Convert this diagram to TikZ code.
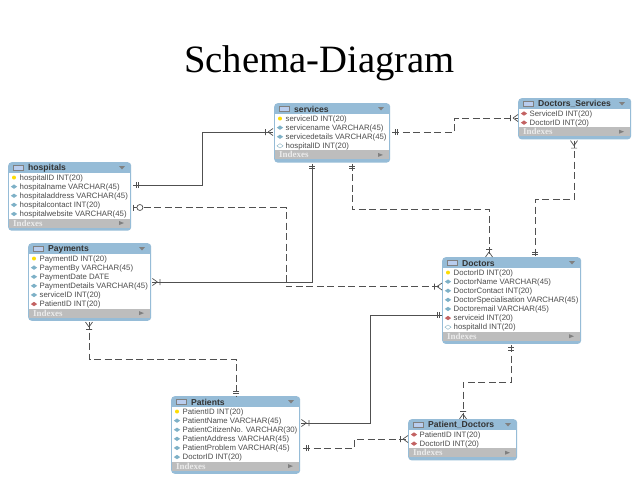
\documentclass[tikz,border=0pt]{standalone}
\usepackage{fontspec}
\setmainfont{Liberation Serif}
\setsansfont{Liberation Sans}
\usetikzlibrary{calc,shapes.geometric}
\definecolor{headblue}{HTML}{96BCD7}
\definecolor{indexgrey}{HTML}{BDBDBD}
\definecolor{linegrey}{HTML}{505050}
\definecolor{iconblue}{HTML}{B9CDEE}
\tikzset{
  tablebox/.style={rectangle,rounded corners=3.5pt,fill=headblue,inner sep=0pt,anchor=north west},
  rowtext/.style={font=\sffamily\fontsize{7.8}{8}\selectfont,text=black!70,inner sep=0pt,anchor=west},
  titletext/.style={font=\sffamily\bfseries\fontsize{8.6}{9}\selectfont,text=black!80,inner sep=0pt,anchor=west},
  indextext/.style={font=\rmfamily\bfseries\fontsize{9}{9}\selectfont,text=white!92!black,inner sep=0pt,anchor=west},
  pk/.style={circle,fill=yellow!80!orange,inner sep=0pt,minimum size=4pt},
  col/.style={diamond,fill=cyan!45!gray!85,inner sep=0pt,minimum width=6.5pt,minimum height=4.5pt},
  fk/.style={diamond,fill=red!45!gray!85,inner sep=0pt,minimum width=6.5pt,minimum height=4.5pt},
  nul/.style={diamond,draw=cyan!40!gray,fill=white,line width=.3pt,inner sep=0pt,minimum width=6.5pt,minimum height=4.5pt},
  link/.style={draw=linegrey,line width=.9pt},
  dlink/.style={link,dash pattern=on 7pt off 3.5pt},
  crow/.pic={
    \draw[linegrey,line width=.7pt,solid] (-7.5,-3) -- (-7.5,3) (-5,0) -- (0,-3.5) (-5,0) -- (0,3.5);
  },
  twobar/.pic={
    \draw[linegrey,line width=.7pt,solid] (-2.5,-3) -- (-2.5,3) (-5,-3) -- (-5,3);
  },
  baro/.pic={
    \draw[linegrey,line width=.7pt,solid] (0,-3) -- (0,3);
    \draw[linegrey,line width=.7pt,solid,fill=white] (6.5,0) circle (3pt);
  },
}
% name, x, y, width, number of rows, title, rows
\newcommand{\erdtable}[7]{
  \node[tablebox,minimum width=#4pt,minimum height=11pt+9.1pt*#5+12pt] (#1) at (#2,#3) {};
  \fill[white] (#2+1,#3+11) rectangle (#2+#4-1,#3+11+9.1*#5);
  \fill[indexgrey] (#2+1,#3+11+9.1*#5) rectangle (#2+#4-1,#3+20+9.1*#5);
  \draw[black!50,fill=iconblue,line width=.4pt] (#2+5,#3+3) rectangle (#2+15,#3+8);
  \node[titletext] (#1-title) at (#2+20,#3+6.3) {#6};
  \fill[black!50] (#2+#4-12,#3+4) -- (#2+#4-6,#3+4) -- (#2+#4-9,#3+7.5) -- cycle;
  \foreach \kind/\txt [count=\i] in {#7} {
    \node[\kind] (#1-icon\i) at (#2+6,#3+11+9.1*\i-4.55) {};
    \node[rowtext] (#1-row\i) at (#2+11.5,#3+11.6+9.1*\i-4.55) {\txt};
  }
  \node[indextext] (#1-index) at (#2+5,#3+15.5+9.1*#5) {Indexes};
  \fill[black!50] (#2+#4-12,#3+13.5+9.1*#5) -- (#2+#4-7,#3+15.5+9.1*#5) -- (#2+#4-12,#3+17.5+9.1*#5) -- cycle;
}
\begin{document}
\begin{tikzpicture}[x=1pt,y=-1pt]
  \useasboundingbox[fill=white] (0,0) rectangle (638,479);
  \node[font=\fontsize{38.7}{40}\selectfont,inner sep=0pt,anchor=base] (heading) at (319.5,72.7) {Schema-Diagram};

  \erdtable{hospitals}{8}{162}{123}{5}{hospitals}{pk/hospitalID INT(20),col/hospitalname VARCHAR(45),col/hospitaladdress VARCHAR(45),col/hospitalcontact INT(20),col/hospitalwebsite VARCHAR(45)}
  \erdtable{payments}{28}{243}{123}{6}{Payments}{pk/PaymentID INT(20),col/PaymentBy VARCHAR(45),col/PaymentDate DATE,col/PaymentDetails VARCHAR(45),col/serviceID INT(20),fk/PatientID INT(20)}
  \erdtable{services}{274}{103}{116}{4}{services}{pk/serviceID INT(20),col/servicename VARCHAR(45),col/servicedetails VARCHAR(45),nul/hospitalID INT(20)}
  \erdtable{docserv}{518}{98}{113}{2}{Doctors\_Services}{fk/ServiceID INT(20),fk/DoctorID INT(20)}
  \erdtable{doctors}{442}{257}{139}{7}{Doctors}{pk/DoctorID INT(20),col/DoctorName VARCHAR(45),col/DoctorContact INT(20),col/DoctorSpecialisation VARCHAR(45),col/Doctoremail VARCHAR(45),fk/serviceid INT(20),nul/hospitalId INT(20)}
  \erdtable{patients}{171}{396}{129}{6}{Patients}{pk/PatientID INT(20),col/PatientName VARCHAR(45),col/PatientCitizenNo. VARCHAR(30),col/PatientAddress VARCHAR(45),col/PatientProblem VARCHAR(45),col/DoctorID INT(20)}
  \erdtable{patdoc}{408}{419}{109}{2}{Patient\_Doctors}{fk/PatientID INT(20),fk/DoctorID INT(20)}

  % connector ends
  \coordinate (h1) at ($(hospitals.north east)+(2,23)$);
  \coordinate (h2) at ($(hospitals.north east)+(2,45.5)$);
  \coordinate (s1) at ($(services.north west)+(-1,29)$);
  \coordinate (s2) at ($(services.south west)+(38,1)$);
  \coordinate (s3) at ($(services.south west)+(78,1)$);
  \coordinate (s4) at ($(services.north east)+(2,29)$);
  \coordinate (p1) at ($(payments.north east)+(1,39)$);
  \coordinate (p2) at ($(payments.south west)+(61,1)$);
  \coordinate (ds1) at ($(docserv.north west)+(0,20)$);
  \coordinate (ds2) at ($(docserv.south west)+(56,1)$);
  \coordinate (d1) at ($(doctors.north west)+(0,29.5)$);
  \coordinate (d2) at ($(doctors.north west)+(47,0)$);
  \coordinate (d3) at ($(doctors.north west)+(93,0)$);
  \coordinate (d4) at ($(doctors.north west)+(0,58)$);
  \coordinate (d5) at ($(doctors.south west)+(69,1)$);
  \coordinate (a1) at ($(patients.north west)+(65,0)$);
  \coordinate (a2) at ($(patients.north east)+(1,27)$);
  \coordinate (a3) at ($(patients.north east)+(3,52)$);
  \coordinate (pd1) at ($(patdoc.north west)+(55,0)$);
  \coordinate (pd2) at ($(patdoc.north west)+(0,20)$);

  \path[link] (h1) -- ++(69,0) |- (s1);
  \path[dlink] (h2) -- ++(153,0) |- (d1);
  \path[link] (s2) |- (p1);
  \path[dlink] (s3) -- ++(0,46) -| (d2);
  \path[dlink] (s4) -- ++(62,0) |- (ds1);
  \path[dlink] (ds2) -- ++(0,59) -| (d3);
  \path[link] (d4) -- ++(-72,0) |- (a2);
  \path[dlink] (d5) -- ++(0,37) -| (pd1);
  \path[dlink] (a3) -- ++(51,0) |- (pd2);
  \path[dlink] (p2) -- ++(0,37) -| (a1);

  % end marks
  \pic[rotate=180] at (h1) {twobar};
  \pic at (h2) {baro};
  \pic at (s1) {crow};
  \pic[rotate=90] at (s2) {twobar};
  \pic[rotate=90] at (s3) {twobar};
  \pic[rotate=180] at (s4) {twobar};
  \pic[rotate=180] at (p1) {crow};
  \pic[rotate=90] at (p2) {crow};
  \pic at (ds1) {crow};
  \pic[rotate=90] at (ds2) {crow};
  \pic at (d1) {crow};
  \pic[rotate=-90] at (d2) {crow};
  \pic[rotate=-90] at (d3) {twobar};
  \pic at (d4) {twobar};
  \pic[rotate=90] at (d5) {twobar};
  \pic[rotate=-90] at (a1) {twobar};
  \pic[rotate=180] at (a2) {crow};
  \pic[rotate=180] at (a3) {twobar};
  \pic[rotate=-90] at (pd1) {crow};
  \pic at (pd2) {crow};
\end{tikzpicture}
\end{document}
